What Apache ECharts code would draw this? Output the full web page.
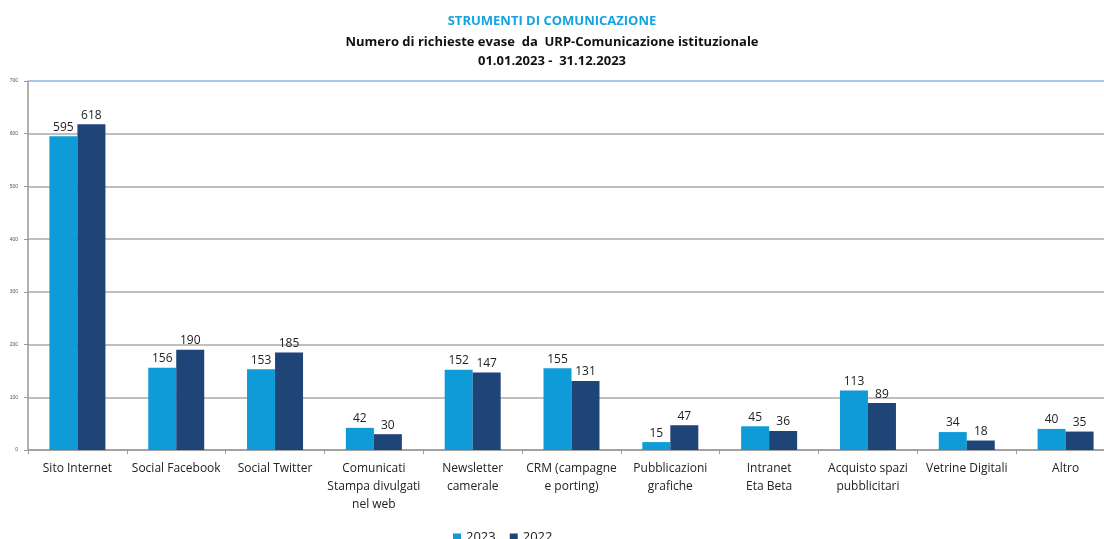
<!DOCTYPE html>
<html><head><meta charset="utf-8">
<script src="https://cdn.jsdelivr.net/npm/echarts@6/dist/echarts.min.js"></script>
<style>html,body{margin:0;padding:0;background:#fff}#c{width:1104px;height:539px}</style>
</head><body><div id="c"></div>
<script>
const categories = ['Sito Internet','Social Facebook','Social Twitter','Comunicati\nStampa divulgati\nnel web','Newsletter\ncamerale','CRM (campagne\ne porting)','Pubblicazioni\ngrafiche','Intranet\nEta Beta','Acquisto spazi\npubblicitari','Vetrine Digitali','Altro'];
const values2023 = [595,156,153,42,152,155,15,45,113,34,40];
const values2022 = [618,190,185,30,147,131,47,36,89,18,35];
const yTicks = [0,100,200,300,400,500,600,700];
const FONT = '"Open Sans",sans-serif';
const chart = echarts.init(document.getElementById('c'));
chart.setOption({
  animation:false,
  title:[
    {text:'STRUMENTI DI COMUNICAZIONE',left:'center',top:10,textStyle:{color:'#14a3e0',fontSize:13,fontWeight:'bold',fontFamily:FONT}},
    {text:'Numero di richieste evase  da  URP-Comunicazione istituzionale',left:'center',top:31,textStyle:{color:'#111',fontSize:13,fontWeight:'bold',fontFamily:FONT}},
    {text:'01.01.2023 -  31.12.2023',left:'center',top:50,textStyle:{color:'#111',fontSize:13,fontWeight:'bold',fontFamily:FONT}}
  ],
  legend:{data:['2023','2022'],top:526,left:448,itemWidth:8,itemHeight:8,itemGap:14,icon:'rect',textStyle:{fontSize:13,color:'#222',fontFamily:FONT}},
  grid:{left:28,top:81,width:1087,height:369,containLabel:false,outerBoundsMode:'none'},
  xAxis:{type:'category',data:categories,
    axisLine:{lineStyle:{color:'#999',width:1.5}},
    axisTick:{show:true,length:4,lineStyle:{color:'#999'}},
    axisLabel:{color:'#222',fontSize:12,fontFamily:FONT,margin:10,lineHeight:18,interval:0}},
  yAxis:{type:'value',min:0,max:700,interval:100,
    axisLine:{show:true,lineStyle:{color:'#999',width:1.5}},
    axisTick:{show:true,length:4,lineStyle:{color:'#999'}},
    axisLabel:{color:'#555',fontSize:5,margin:10,formatter:v=>yTicks.includes(v)?String(v):''},
    splitLine:{lineStyle:{color:'#aaa',width:1.5}}},
  series:[
    {name:'2023',type:'bar',data:values2023,barWidth:28,barGap:'0%',itemStyle:{color:'#0f9ad8'},
     label:{show:true,position:'top',distance:3,color:'#222',fontSize:12,fontFamily:FONT}},
    {name:'2022',type:'bar',data:values2022,barWidth:28,barGap:'0%',itemStyle:{color:'#1f4478'},
     label:{show:true,position:'top',distance:3,color:'#222',fontSize:12,fontFamily:FONT},
     markLine:{silent:true,symbol:'none',label:{show:false},lineStyle:{color:'#a8c8ea',width:2,type:'solid'},data:[{yAxis:700}]}}
  ]
});
</script></body></html>
